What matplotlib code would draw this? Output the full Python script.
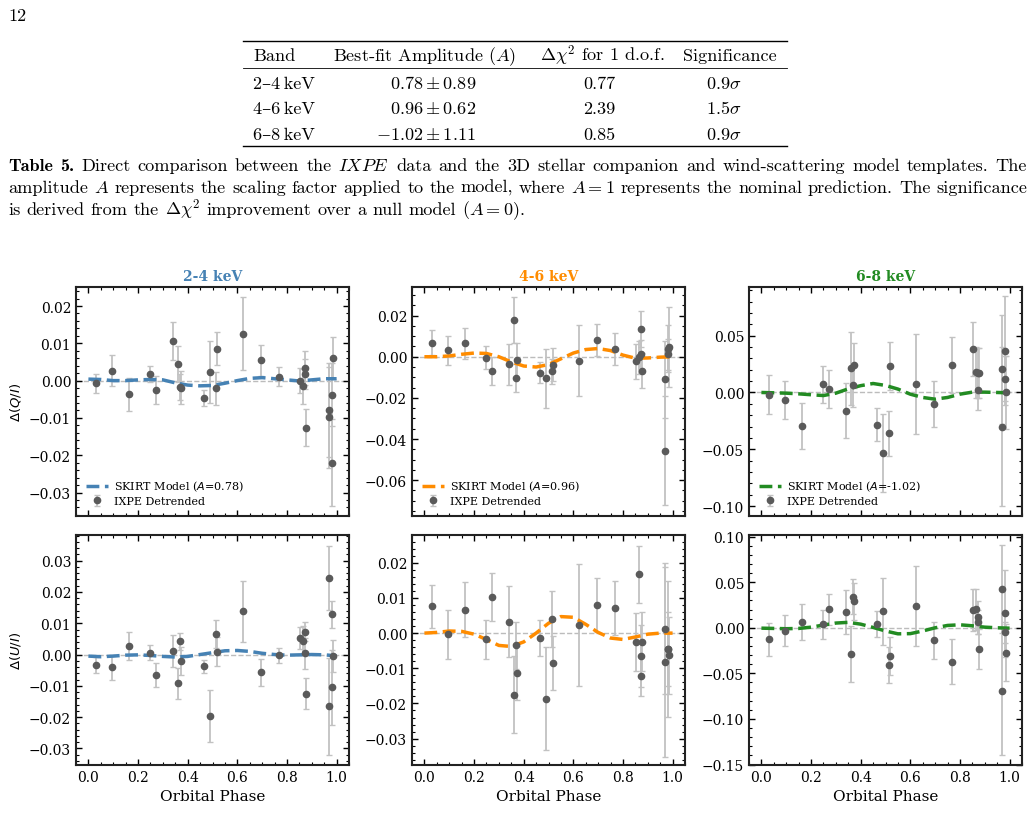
import matplotlib
matplotlib.use('Agg')
import matplotlib.pyplot as plt
from matplotlib.lines import Line2D
from matplotlib.ticker import MultipleLocator, AutoMinorLocator

# ---- table 5 ----
bands = ['2–4\u2009keV', '4–6\u2009keV', '6–8\u2009keV']
amp_txt = [r'$0.78 \pm 0.89$', r'$0.96 \pm 0.62$', r'$-1.02 \pm 1.11$']
dchi2 = ['0.77', '2.39', '0.85']
signif = [r'$0.9\sigma$', r'$1.5\sigma$', r'$0.9\sigma$']
headers = ['Band', r'Best-fit Amplitude ($A$)', r'$\Delta\chi^2$ for 1 d.o.f.', 'Significance']

caption = [
    r'Table 5. Direct comparison between the $\mathit{IXPE}$ data and the 3D stellar companion and wind-scattering model templates. The',
    r'amplitude $A$ represents the scaling factor applied to the model, where $A=1$ represents the nominal prediction. The significance',
    r'is derived from the $\Delta\chi^2$ improvement over a null model ($A=0$).',
]

# ---- panels ----
phase = [0.031, 0.097, 0.162, 0.250, 0.272, 0.341, 0.362, 0.369, 0.375, 0.467, 0.489, 0.515, 0.517,
         0.622, 0.697, 0.767, 0.851, 0.866, 0.872, 0.874, 0.878, 0.968, 0.970, 0.980, 0.982, 0.984]

q24 = [-0.0007, 0.0027, -0.0037, 0.0018, -0.0026, 0.0105, 0.0044, -0.0018, -0.0019, -0.0046, 0.0022, -0.0021, 0.0086,
       0.0126, 0.0054, 0.0011, 0.0000, -0.0015, 0.0034, 0.0018, -0.0126, -0.0079, -0.0098, -0.0038, -0.0220, 0.0060]
q24_err = [0.0026, 0.0041, 0.0045, 0.0022, 0.0038, 0.0051, 0.0048, 0.0035, 0.0045, 0.0021, 0.0083, 0.0045, 0.0044,
           0.0097, 0.0042, 0.0025, 0.0033, 0.0047, 0.0046, 0.0040, 0.0050, 0.0125, 0.0135, 0.0085, 0.0116, 0.0057]
q46 = [0.0069, 0.0031, 0.0066, -0.0005, -0.0068, -0.0037, 0.0179, -0.0103, -0.0016, -0.0077, -0.0105, -0.0071, -0.0039,
       -0.0019, 0.0081, 0.0037, -0.0021, -0.0003, 0.0134, 0.0011, -0.0069, -0.0110, -0.0456, 0.0011, 0.0039, 0.0048]
q46_err = [0.0061, 0.0071, 0.0076, 0.0056, 0.0067, 0.0100, 0.0110, 0.0066, 0.0085, 0.0050, 0.0145, 0.0060, 0.0080,
           0.0172, 0.0076, 0.0078, 0.0085, 0.0080, 0.0087, 0.0070, 0.0085, 0.0188, 0.0265, 0.0073, 0.0115, 0.0194]
q68 = [-0.0018, -0.0068, -0.0292, 0.0071, 0.0029, -0.0159, 0.0212, 0.0065, 0.0239, -0.0286, -0.0534, -0.0360, 0.0233,
       0.0077, -0.0100, 0.0242, 0.0383, 0.0177, 0.0018, 0.0171, 0.0168, 0.0206, -0.0301, 0.0369, 0.0121, 0.0000]
q68_err = [0.0173, 0.0170, 0.0202, 0.0165, 0.0170, 0.0246, 0.0319, 0.0190, 0.0200, 0.0145, 0.0340, 0.0200, 0.0210,
           0.0440, 0.0200, 0.0245, 0.0236, 0.0224, 0.0170, 0.0220, 0.0220, 0.0480, 0.0700, 0.0480, 0.0200, 0.0320]

u24 = [-0.0034, -0.0041, 0.0026, 0.0006, -0.0066, 0.0010, -0.0092, 0.0042, -0.0021, -0.0038, -0.0195, 0.0065, 0.0009,
       0.0138, -0.0057, -0.0002, 0.0053, 0.0044, 0.0073, 0.0004, -0.0125, 0.0245, -0.0165, 0.0128, -0.0105, -0.0005]
u24_err = [0.0025, 0.0040, 0.0045, 0.0023, 0.0038, 0.0051, 0.0049, 0.0026, 0.0045, 0.0020, 0.0083, 0.0045, 0.0046,
           0.0097, 0.0042, 0.0024, 0.0035, 0.0047, 0.0030, 0.0050, 0.0049, 0.0103, 0.0155, 0.0044, 0.0119, 0.0052]
u46 = [0.0076, -0.0003, 0.0066, -0.0018, 0.0103, 0.0033, -0.0175, -0.0035, -0.0114, -0.0014, -0.0186, 0.0041, -0.0085,
       0.0024, 0.0080, 0.0072, -0.0025, 0.0167, -0.0065, -0.0123, -0.0024, 0.0013, -0.0081, -0.0046, -0.0045, -0.0063]
u46_err = [0.0062, 0.0070, 0.0078, 0.0056, 0.0068, 0.0100, 0.0110, 0.0066, 0.0077, 0.0050, 0.0146, 0.0080, 0.0077,
           0.0173, 0.0077, 0.0077, 0.0082, 0.0082, 0.0087, 0.0056, 0.0085, 0.0186, 0.0270, 0.0105, 0.0193, 0.0110]
u68 = [-0.0128, -0.0033, 0.0059, 0.0037, 0.0201, 0.0172, -0.0286, 0.0340, 0.0289, 0.0044, 0.0180, -0.0407, -0.0311,
       0.0238, -0.0139, -0.0370, 0.0198, 0.0201, 0.0114, 0.0066, -0.0234, 0.0425, -0.0692, 0.0158, -0.0051, -0.0271]
u68_err = [0.0176, 0.0170, 0.0198, 0.0160, 0.0168, 0.0242, 0.0310, 0.0190, 0.0200, 0.0143, 0.0370, 0.0200, 0.0205,
           0.0436, 0.0203, 0.0250, 0.0230, 0.0220, 0.0180, 0.0130, 0.0220, 0.0480, 0.0700, 0.0480, 0.0120, 0.0310]

# SKIRT model curves (every 0.05 in phase)
mphase = [0.00, 0.05, 0.10, 0.15, 0.20, 0.25, 0.30, 0.35, 0.40, 0.45, 0.50,
          0.55, 0.60, 0.65, 0.70, 0.75, 0.80, 0.85, 0.90, 0.95, 1.00]
q24_model = [0.0004, 0.0003, 0.0000, 0.0000, 0.0002, 0.0003, 0.0002, -0.0006, -0.0012, -0.0014, -0.0013,
             -0.0007, 0.0000, 0.0006, 0.0008, 0.0005, 0.0002, -0.0001, 0.0002, 0.0005, 0.0005]
q46_model = [0.0000, 0.0000, 0.0004, 0.0012, 0.0018, 0.0016, 0.0000, -0.0025, -0.0045, -0.0050, -0.0038,
             -0.0010, 0.0018, 0.0035, 0.0040, 0.0030, 0.0008, -0.0007, -0.0006, -0.0002, 0.0000]
q68_model = [0.0000, -0.0003, -0.0006, -0.0012, -0.0020, -0.0027, -0.0006, 0.0032, 0.0060, 0.0079, 0.0062,
             0.0030, -0.0015, -0.0044, -0.0059, -0.0044, -0.0015, 0.0003, 0.0003, 0.0000, -0.0003]
u24_model = [-0.0005, -0.0007, -0.0005, -0.0002, -0.0001, -0.0003, -0.0006, -0.0008, -0.0006, 0.0000, 0.0006,
             0.0012, 0.0013, 0.0010, 0.0004, 0.0000, -0.0002, -0.0001, 0.0000, -0.0001, -0.0004]
u46_model = [0.0000, 0.0002, 0.0006, 0.0005, -0.0003, -0.0018, -0.0035, -0.0038, -0.0025, 0.0000, 0.0028,
             0.0047, 0.0045, 0.0025, 0.0002, -0.0014, -0.0018, -0.0011, -0.0003, 0.0000, 0.0000]
u68_model = [-0.0004, -0.0007, -0.0010, -0.0007, 0.0007, 0.0030, 0.0052, 0.0060, 0.0040, 0.0004, -0.0035,
             -0.0066, -0.0064, -0.0035, 0.0000, 0.0026, 0.0033, 0.0022, 0.0007, 0.0000, -0.0004]

band_titles = ['2-4 keV', '4-6 keV', '6-8 keV']
amps = ['0.78', '0.96', '-1.02']
colors = ['steelblue', 'darkorange', 'forestgreen']

data = [[(q24, q24_err, q24_model), (q46, q46_err, q46_model), (q68, q68_err, q68_model)],
        [(u24, u24_err, u24_model), (u46, u46_err, u46_model), (u68, u68_err, u68_model)]]
ylims = [[(-0.0363, 0.0251), (-0.0774, 0.0339), (-0.1088, 0.0929)],
         [(-0.0353, 0.0382), (-0.0375, 0.0279), (-0.1505, 0.1018)]]
ysteps = [[0.01, 0.02, 0.05], [0.01, 0.01, 0.05]]
ylabels = [r'$\Delta(Q/I)$', r'$\Delta(U/I)$']

W, H = 1034, 828
fig = plt.figure(figsize=(W / 100, H / 100), dpi=100)
plt.rcParams['font.family'] = 'DejaVu Serif'

def fx(px):
    return px / W

def fy(py):
    return 1 - py / H

CM = dict(family=['cmr10', 'DejaVu Serif'], math_fontfamily='cm')
CMB = dict(family=['cmb10', 'DejaVu Serif'], math_fontfamily='cm')
FS = 13.1

# page number
fig.text(fx(8), fy(21), '12', fontsize=FS, va='baseline', **CM)

# table rules
for y, lw in [(42, 1.0), (68.5, 0.6), (146.5, 1.0)]:
    fig.add_artist(Line2D([fx(243), fx(787)], [fy(y), fy(y)], color='black', lw=lw,
                          transform=fig.transFigure))

head_x = [(253, 'left'), (425, 'center'), (602, 'center'), (730, 'center')]
for (x, ha), h in zip(head_x, headers):
    fig.text(fx(x), fy(61), h, fontsize=FS, ha=ha, va='baseline', **CM)

row_y = [89, 114, 140]
for i in range(3):
    fig.text(fx(253), fy(row_y[i]), bands[i], fontsize=FS, ha='left', va='baseline', **CM)
    fig.text(fx(476), fy(row_y[i]), amp_txt[i], fontsize=FS, ha='right', va='baseline', **CM)
    fig.text(fx(599), fy(row_y[i]), dchi2[i], fontsize=FS, ha='center', va='baseline', **CM)
    fig.text(fx(724), fy(row_y[i]), signif[i], fontsize=FS, ha='center', va='baseline', **CM)

# caption, laid out word by word so lines can be justified
renderer = fig.canvas.get_renderer()
cap_y = [171, 193, 215]
X0, X1 = 8, 1027
for li, line in enumerate(caption):
    words = line.split(' ')
    objs = []
    for wi, w in enumerate(words):
        style = CMB if (li == 0 and wi < 2) else CM
        objs.append(fig.text(0, fy(cap_y[li]), w, fontsize=FS, va='baseline', **style))
    widths = [t.get_window_extent(renderer).width for t in objs]
    if li < len(caption) - 1:
        gap = (X1 - X0 - sum(widths)) / (len(objs) - 1)
    else:
        gap = 0.333 * FS * 100 / 72
    x = X0
    for t, w in zip(objs, widths):
        t.set_x(fx(x))
        x += w + gap

# panels
lefts = [76, 412, 749]
rows = [(288, 517), (536, 766)]
for r in range(2):
    top, bot = rows[r]
    for c in range(3):
        ax = fig.add_axes([fx(lefts[c]), fy(bot), 273 / W, (bot - top) / H])
        vals, errs, model = data[r][c]
        ax.axhline(0, color='#bcbcbc', ls='--', lw=1.0, zorder=1)
        ax.plot(mphase, model, ls='--', color=colors[c], lw=2.5, zorder=3,
                label=f'SKIRT Model ($A$={amps[c]})')
        eb = ax.errorbar(phase, vals, yerr=errs, fmt='o', color='#5a5a5a', ms=4.5,
                         ecolor='#c2c2c2', elinewidth=1.3, capsize=2, capthick=1,
                         zorder=2, label='IXPE Detrended')
        eb.lines[0].set_zorder(4)

        ax.set_xlim(-0.05, 1.05)
        ax.set_ylim(*ylims[r][c])
        ax.xaxis.set_major_locator(MultipleLocator(0.2))
        ax.xaxis.set_minor_locator(AutoMinorLocator())
        ax.yaxis.set_major_locator(MultipleLocator(ysteps[r][c]))
        ax.yaxis.set_minor_locator(AutoMinorLocator())
        ax.tick_params(which='both', direction='in', top=True, right=True, labelsize=10)
        ax.tick_params(which='major', length=4, width=1)
        ax.tick_params(which='minor', length=2, width=0.8)
        for s in ax.spines.values():
            s.set_linewidth(1.5)
            s.set_color('#222222')

        if r == 0:
            ax.tick_params(labelbottom=False)
            ax.set_title(band_titles[c], color=colors[c], fontweight='bold', fontsize=10, pad=5)
            ax.legend(loc='lower left', frameon=False, fontsize=8, handlelength=2.0,
                      handletextpad=0.5, labelspacing=0.25)
        else:
            ax.set_xlabel('Orbital Phase', fontsize=11)
        if c == 0:
            ax.set_ylabel(ylabels[r], fontsize=9.5)

fig.savefig('out.png', dpi=100)
